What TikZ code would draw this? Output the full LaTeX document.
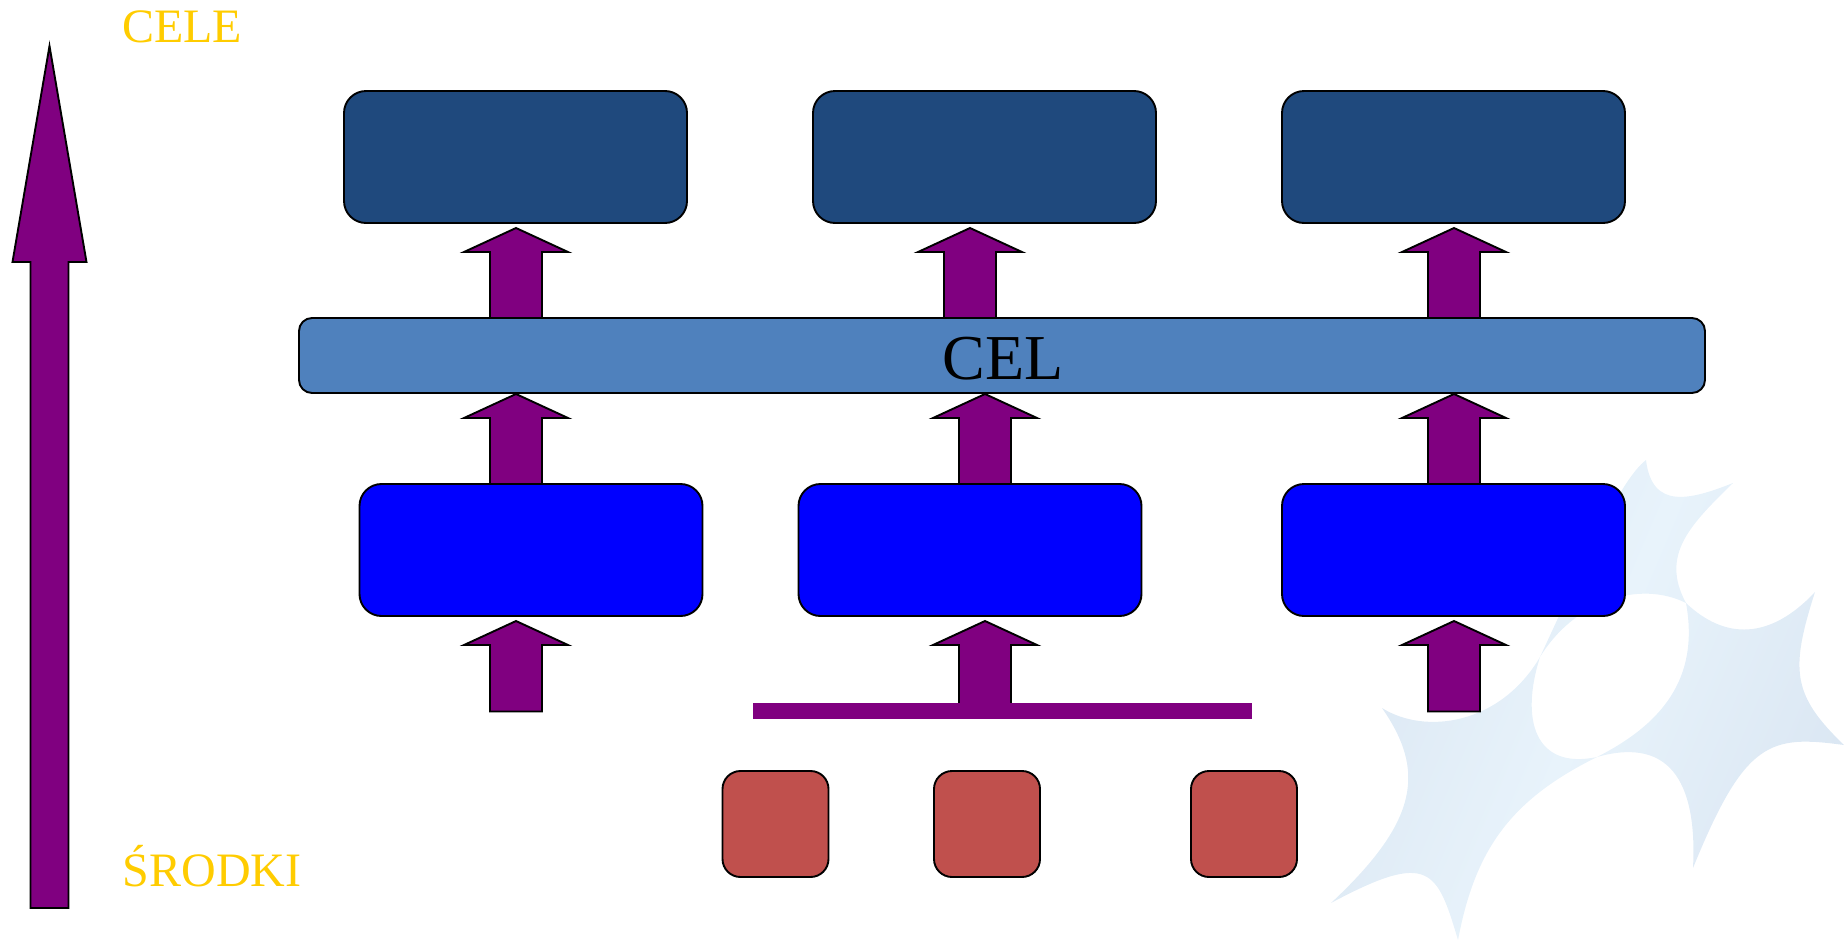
\documentclass[tikz,border=0pt]{standalone}
\usepackage{fontspec}
\setmainfont{Liberation Serif}
\usetikzlibrary{calc}
\definecolor{goalcol}{HTML}{1F497D}
\definecolor{barcol}{HTML}{4F81BD}
\definecolor{meancol}{HTML}{0000FF}
\definecolor{rescol}{HTML}{C0504D}
\definecolor{arrowcol}{HTML}{800080}
\definecolor{labelcol}{HTML}{FFCC00}
\definecolor{starA}{HTML}{E8F3FB}
\definecolor{starB}{HTML}{DBE7F3}
\tikzset{
  box/.style={draw=black,line width=1.9pt,inner sep=0pt,outer sep=0pt},
  goalbox/.style={box,fill=goalcol,minimum width=343pt,minimum height=132pt,rounded corners=22pt},
  meanbox/.style={box,fill=meancol,minimum width=343pt,minimum height=132pt,rounded corners=22pt},
  resbox/.style={box,fill=rescol,minimum width=106pt,minimum height=106pt,rounded corners=18pt},
  barbox/.style={box,fill=barcol,minimum width=1406pt,minimum height=75pt,rounded corners=13pt},
  blockarrow/.style={draw=black,line width=1.9pt,fill=arrowcol,line join=miter,miter limit=6},
  sidelabel/.style={text=labelcol,font=\fontsize{48}{48}\selectfont,inner sep=0pt,anchor=base west},
}
% tail coordinate, tip coordinate: a block arrow between them
\newcommand{\blockarr}[2]{%
  \draw[blockarrow] ($(#2)+(0,0)$) -- ($(#2)+(52,24)$) -- ($(#2)+(26,24)$) -- ($(#1)+(26,0)$)
    -- ($(#1)+(-26,0)$) -- ($(#2)+(-26,24)$) -- ($(#2)+(-52,24)$) -- cycle;}
\begin{document}
\begin{tikzpicture}[x=1pt,y=-1pt]
\useasboundingbox (0,0) rectangle (1845,940);
% background logo
\shade[even odd rule,left color=starB,right color=starB,middle color=starA,shading angle=67]
  (1646,460) .. controls (1652,510) and (1690,500) .. (1733,483)
  .. controls (1690,525) and (1660,555) .. (1686,603)
  .. controls (1725,640) and (1770,640) .. (1815,592)
  .. controls (1790,670) and (1792,695) .. (1844,745)
  .. controls (1770,735) and (1745,740) .. (1693,868)
  .. controls (1697,790) and (1675,735) .. (1597,757)
  .. controls (1510,800) and (1475,850) .. (1458,940)
  .. controls (1437,870) and (1430,850) .. (1331,903)
  .. controls (1420,820) and (1425,770) .. (1382,708)
  .. controls (1425,735) and (1500,725) .. (1540,657)
  .. controls (1585,560) and (1620,480) .. (1646,460) -- cycle
  (1686,603) .. controls (1640,580) and (1575,600) .. (1540,657)
  .. controls (1520,720) and (1535,770) .. (1597,757)
  .. controls (1660,725) and (1700,680) .. (1686,603) -- cycle;
% arrow end points
\coordinate (big tail) at (49.5,908);
\coordinate (t1) at (516,228); \coordinate (s1) at (516,318);
\coordinate (t2) at (970,228); \coordinate (s2) at (970,318);
\coordinate (t3) at (1454,228); \coordinate (s3) at (1454,318);
\coordinate (t4) at (516,394); \coordinate (s4) at (516,484);
\coordinate (t5) at (985,394); \coordinate (s5) at (985,484);
\coordinate (t6) at (1454,394); \coordinate (s6) at (1454,484);
\coordinate (t7) at (516,621); \coordinate (s7) at (516,711.5);
\coordinate (t8) at (985,621); \coordinate (s8) at (985,711);
\coordinate (t9) at (1454,621); \coordinate (s9) at (1454,711.5);
\blockarr{s1}{t1}\blockarr{s2}{t2}\blockarr{s3}{t3}
\blockarr{s4}{t4}\blockarr{s5}{t5}\blockarr{s6}{t6}
\blockarr{s7}{t7}\blockarr{s8}{t8}\blockarr{s9}{t9}
% large arrow
\coordinate (big tip) at (49.5,46);
\draw[blockarrow] (big tip) -- ($(big tip)+(37,216)$) -- ($(big tip)+(19,216)$) -- ($(big tail)+(19,0)$)
  -- ($(big tail)+(-19,0)$) -- ($(big tip)+(-19,216)$) -- ($(big tip)+(-37,216)$) -- cycle;
% boxes
\node[goalbox] (g1) at (515.5,157) {};
\node[goalbox] (g2) at (984.5,157) {};
\node[goalbox] (g3) at (1453.5,157) {};
\node[barbox] (bar) at (1002,355.5) {};
\node[inner sep=0pt,anchor=base,font=\fontsize{64}{64}\selectfont,text=black] (cel) at (1003,379) {CEL};
\node[meanbox] (m1) at (531,550) {};
\node[meanbox] (m2) at (970,550) {};
\node[meanbox] (m3) at (1453.5,550) {};
\node[fill=arrowcol,inner sep=0pt,outer sep=0pt,minimum width=499pt,minimum height=16pt] (line) at (1002.5,711) {};
\node[resbox] (r1) at (775.5,824) {};
\node[resbox] (r2) at (987,824) {};
\node[resbox] (r3) at (1244,824) {};
% labels
\node[sidelabel] (cele) at (122,42) {CELE};
\node[sidelabel] (srodki) at (122.5,886) {ŚRODKI};
\end{tikzpicture}
\end{document}
